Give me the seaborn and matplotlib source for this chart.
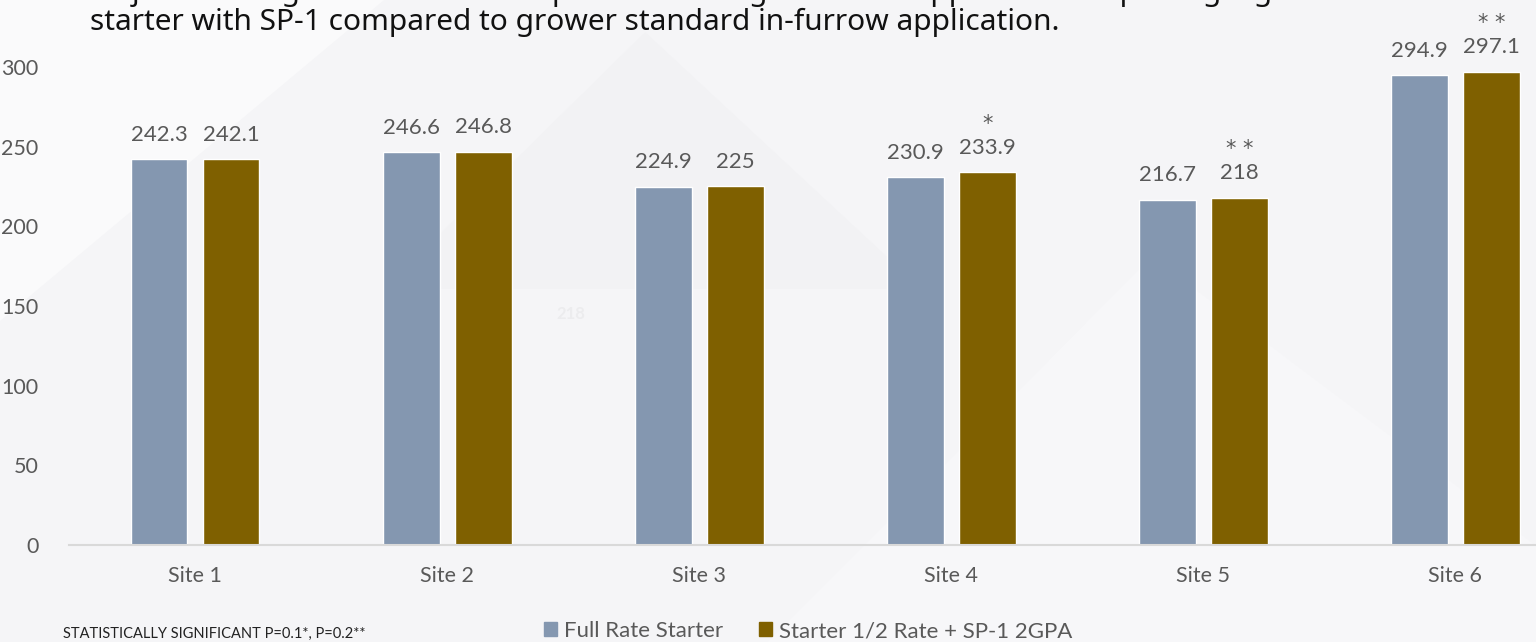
import pandas as pd
import matplotlib.pyplot as plt
import seaborn as sns
from matplotlib.patches import Polygon

# ---------- DATA ----------
SITES = ["Site 1", "Site 2", "Site 3", "Site 4", "Site 5", "Site 6"]
FULL_RATE = [242.3, 246.6, 224.9, 230.9, 216.7, 294.9]
HALF_SP1 = [242.1, 246.8, 225, 233.9, 218, 297.1]
STARS = ["", "", "", "*", "**", "**"]
SERIES = ["Full Rate Starter", "Starter 1/2 Rate + SP-1 2GPA"]
COLORS = ["#8497B0", "#7F6000"]
YTICKS = [0, 50, 100, 150, 200, 250, 300]

TITLE_1 = "Objective: Large scale on-farm replicated testing in-furrow applications replacing 2 gallons of"
TITLE_2 = "starter with SP-1 compared to grower standard in-furrow application."
FOOTNOTE = "STATISTICALLY SIGNIFICANT P=0.1*, P=0.2**"

df = pd.DataFrame({
    "site": SITES * 2,
    "value": FULL_RATE + HALF_SP1,
    "series": [SERIES[0]] * len(SITES) + [SERIES[1]] * len(SITES),
})

sns.set_style("white")
plt.rcParams["font.family"] = ["Lato", "DejaVu Sans"]

fig = plt.figure(figsize=(15.36, 6.42), dpi=100)
fig.patch.set_facecolor("#f5f5f7")

# faint background shapes, like the slide behind the chart
bg = fig.add_axes([0, 0, 1, 1], zorder=-5)
bg.set_xlim(0, 1)
bg.set_ylim(0, 1)
bg.axis("off")
bg.add_patch(Polygon([[0.0, 0.5], [0.25, 1.0], [0.0, 1.0]], color="#fafafb", lw=0))
bg.add_patch(Polygon([[0.25, 0.55], [0.42, 0.95], [0.6, 0.55]], color="#f2f2f4", lw=0))
bg.add_patch(Polygon([[0.5, 0.0], [0.75, 0.6], [1.0, 0.15], [1.0, 0.0]], color="#f7f7f9", lw=0))

ax = fig.add_axes([69 / 1536, 97 / 642, 1 - 69 / 1536, 478 / 642])
ax.set_facecolor("none")

sns.barplot(data=df, x="site", y="value", hue="series", order=SITES,
            hue_order=SERIES, palette=COLORS, width=0.571, gap=0.21,
            saturation=1, ax=ax, legend=False)

ax.set_ylim(0, 300)
ax.set_xlim(-0.5, 5.32)
ax.set_yticks(YTICKS)
ax.set_xlabel("")
ax.set_ylabel("")
for s in ["top", "right", "left"]:
    ax.spines[s].set_visible(False)
ax.spines["bottom"].set_color("#d9d9d9")
ax.spines["bottom"].set_linewidth(1.5)
ax.tick_params(axis="y", length=0, pad=22, labelsize=15.5, labelcolor="#595959")
ax.tick_params(axis="x", length=0, pad=15, labelsize=15.5, labelcolor="#595959")

# value labels and significance stars
for i, cont in enumerate(ax.containers):
    for j, bar in enumerate(cont):
        x = bar.get_x() + bar.get_width() / 2
        h = bar.get_height()
        ax.text(x, h + 9, f"{h:g}", ha="center", va="bottom", fontsize=16,
                color="#595959", clip_on=False)
        if i == 1 and STARS[j]:
            ax.text(x, h + 24, " ".join(STARS[j]), ha="center", va="bottom",
                    fontsize=15, color="#595959", clip_on=False,
                    family=["DejaVu Sans"])

ax.text(1.49, 145, "218", ha="center", va="center", fontsize=12,
        color="#ececee", fontweight="bold")

# title (first line is cut off at the top, as in the slide)
fig.text(90 / 1536, 1.012, TITLE_1, ha="left", va="center", fontsize=21.5,
         color="#111111", family=["Noto Sans", "DejaVu Sans"])
fig.text(90 / 1536, 1 - 22 / 642, TITLE_2, ha="left", va="center", fontsize=21.5,
         color="#111111", family=["Noto Sans", "DejaVu Sans"])

# footnote and legend
fig.text(63 / 1536, 1 - 634 / 642, FOOTNOTE, ha="left", va="center", fontsize=10.5,
         color="#222222")
handles = [plt.Rectangle((0, 0), 1, 1, color=c) for c in COLORS]
fig.legend(handles, SERIES, loc="center", bbox_to_anchor=(808 / 1536, 1 - 631 / 642),
           ncol=2, frameon=False, fontsize=16, handlelength=0.6, handleheight=0.6,
           handletextpad=0.3, columnspacing=1.6, labelcolor="#595959",
           borderpad=0, borderaxespad=0)

fig.savefig("out.png", dpi=100, facecolor=fig.get_facecolor())
